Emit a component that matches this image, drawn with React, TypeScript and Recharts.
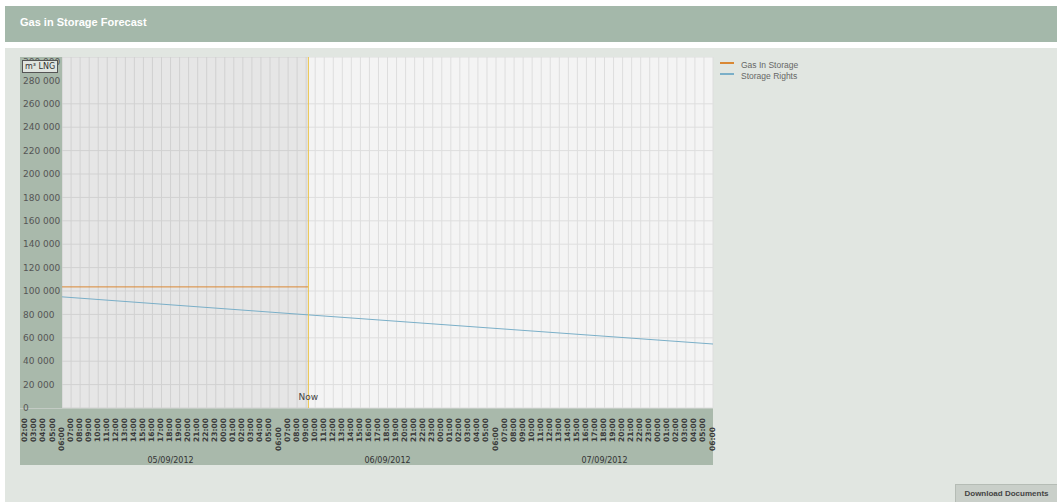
import React from 'react';
import {
  LineChart,
  Line,
  XAxis,
  YAxis,
  CartesianGrid,
  ReferenceArea,
  ReferenceLine,
  Legend,
} from 'recharts';

// hours counted from 06:00 on 05/09/2012 (start of the first gas day)
const rightsHours = [0, 24, 48, 72];
const storageRights = [95000, 81400, 68000, 54700];
const gasHours = [0, 27.25];
const gasInStorage = [103500, 103500];
const nowHour = 27.25;

const dayLabels = ['05/09/2012', '06/09/2012', '07/09/2012'];
const yTicks = [0, 20000, 40000, 60000, 80000, 100000, 120000, 140000, 160000, 180000, 200000, 220000, 240000, 260000, 280000, 300000];
const hourTicks = Array.from({ length: 77 }, (_, i) => i - 4);

const rightsData = rightsHours.map((t, i) => ({ t, v: storageRights[i] }));
const gasData = gasHours.map((t, i) => ({ t, v: gasInStorage[i] }));

const BAND = '#a9b9ab';
const ORANGE = '#d98834';
const BLUE = '#7aafc8';

const fmt = (v: number) => String(v).replace(/\B(?=(\d{3})+(?!\d))/g, ' ');

function HourTick({ x, y, payload }: any) {
  const t = payload.value as number;
  const h = (((t + 6) % 24) + 24) % 24;
  const label = `${String(h).padStart(2, '0')}:00`;
  const dayIdx = Math.floor((t - 12) / 24);
  const isMid = (((t - 12) % 24) + 24) % 24 === 0 && dayIdx >= 0 && dayIdx < dayLabels.length;
  return (
    <g>
      <g transform={`translate(${x},${y + (h === 6 ? 19 : 10)})`}>
        <text
          transform="rotate(-90)"
          textAnchor="end"
          dy={1.5}
          fontFamily="DejaVu Sans"
          fontWeight="bold"
          fontSize={7.5}
          fill="#3a3a3a"
        >
          {label}
        </text>
      </g>
      {isMid && (
        <text x={x} y={y + 55} textAnchor="middle" fontFamily="DejaVu Sans" fontSize={8} fill="#333">
          {dayLabels[dayIdx]}
        </text>
      )}
    </g>
  );
}

function LegendBox({ payload }: any) {
  return (
    <div style={{ fontFamily: 'Liberation Sans, Arial', fontSize: 8.5, color: '#666' }}>
      {(payload || []).map((p: any) => (
        <div key={p.value} style={{ display: 'flex', alignItems: 'center', height: 11 }}>
          <svg width={14} height={6} style={{ marginRight: 7, marginTop: -3 }}>
            <line x1={0} x2={14} y1={3} y2={3} stroke={p.color} strokeWidth={2} />
          </svg>
          <span>{p.value}</span>
        </div>
      ))}
    </div>
  );
}

export default function App() {
  return (
    <div style={{ position: 'relative', width: 1057, height: 502, background: '#fff', overflow: 'hidden' }}>
      <style>{'body{margin:0}'}</style>
      <div
        style={{
          position: 'absolute',
          left: 5,
          top: 6,
          width: 1052,
          height: 36,
          background: '#a4b8aa',
        }}
      >
        <div
          style={{
            position: 'absolute',
            left: 15,
            top: 10,
            color: '#fff',
            fontFamily: 'Liberation Sans, Arial',
            fontWeight: 'bold',
            fontSize: 11,
          }}
        >
          Gas in Storage Forecast
        </div>
      </div>
      <div style={{ position: 'absolute', left: 5, top: 48, width: 1052, height: 454, background: '#e1e6e1' }} />
      <div style={{ position: 'absolute', left: 20, top: 57, width: 693, height: 408, background: BAND }} />
      <div style={{ position: 'absolute', left: 20, top: 57 }}>
        <LineChart width={790} height={408} margin={{ top: 0, right: 97, left: 0, bottom: 0 }}>
          <CartesianGrid stroke="#dedede" fill="#f4f4f4" />
          <ReferenceArea x1={0} x2={nowHour} fill="#000" fillOpacity={0.055} stroke="none" />
          <ReferenceArea x1={-4.65} x2={0} fill={BAND} fillOpacity={1} stroke="none" />
          <XAxis
            type="number"
            dataKey="t"
            domain={[-4.65, 72]}
            ticks={hourTicks}
            interval={0}
            allowDataOverflow
            height={57}
            tickSize={0}
            tickMargin={0}
            axisLine={false}
            tick={<HourTick />}
          />
          <YAxis
            type="number"
            domain={[0, 300000]}
            ticks={yTicks}
            mirror
            tickSize={0}
            tickMargin={3}
            axisLine={false}
            tickFormatter={fmt}
            tick={{ fontFamily: 'DejaVu Sans', fontSize: 9, fill: '#555' }}
          />
          <Legend
            layout="vertical"
            align="center"
            verticalAlign="middle"
            wrapperStyle={{ left: 700, top: 2, width: 90 }}
            content={<LegendBox />}
          />
          <Line
            data={gasData}
            dataKey="v"
            name="Gas In Storage"
            stroke={ORANGE}
            strokeWidth={1}
            dot={false}
            isAnimationActive={false}
          />
          <Line
            data={rightsData}
            dataKey="v"
            name="Storage Rights"
            stroke={BLUE}
            strokeWidth={1}
            dot={false}
            isAnimationActive={false}
          />
          <ReferenceLine
            x={nowHour}
            stroke="#ecc54e"
            strokeWidth={1}
            label={{ value: 'Now', position: 'insideBottom', offset: 8, fill: '#444', fontSize: 9, fontFamily: 'DejaVu Sans' }}
          />
        </LineChart>
      </div>
      <div
        style={{
          position: 'absolute',
          left: 22,
          top: 60,
          padding: '0 2px',
          height: 11,
          lineHeight: '11px',
          border: '1px solid #555',
          background: '#dfe4df',
          fontFamily: 'DejaVu Sans',
          fontSize: 8,
          color: '#333',
        }}
      >
        m³ LNG
      </div>
      <div
        style={{
          position: 'absolute',
          left: 955,
          top: 484,
          width: 102,
          height: 18,
          background: '#c9cfc9',
          borderTop: '1px solid #b5bcb5',
          borderLeft: '1px solid #b5bcb5',
          boxSizing: 'border-box',
          fontFamily: 'Liberation Sans, Arial',
          fontWeight: 'bold',
          fontSize: 8,
          color: '#444',
          textAlign: 'center',
          lineHeight: '17px',
        }}
      >
        Download Documents
      </div>
    </div>
  );
}
